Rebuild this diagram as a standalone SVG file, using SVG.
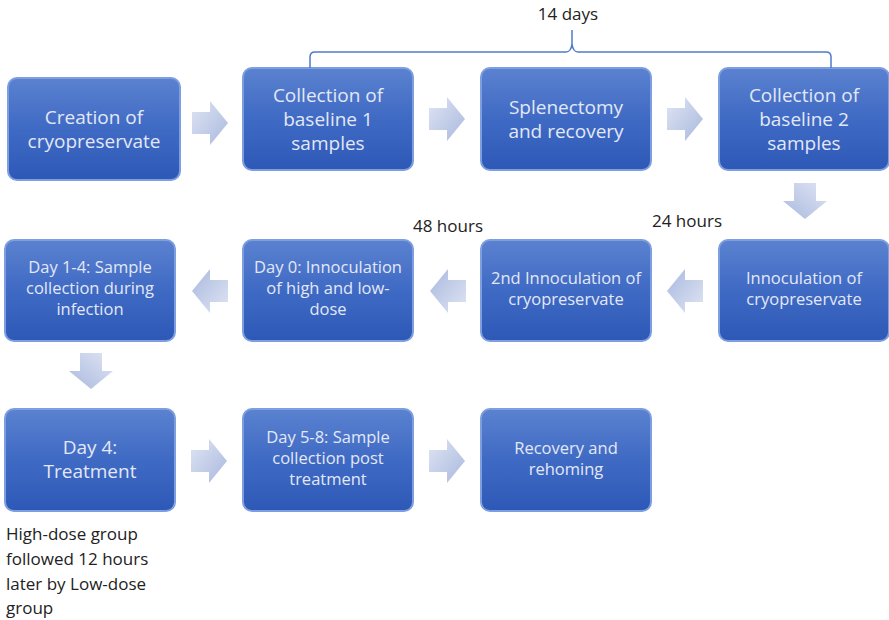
<svg xmlns="http://www.w3.org/2000/svg" width="889" height="620" viewBox="0 0 889 620">
<defs>
<linearGradient id="bg" x1="0" y1="0" x2="0" y2="1">
<stop offset="0" stop-color="#5b82d0"/>
<stop offset="0.5" stop-color="#3f6ac4"/>
<stop offset="1" stop-color="#2d58b6"/>
</linearGradient>
<linearGradient id="ag" x1="0" y1="0" x2="1" y2="1">
<stop offset="0" stop-color="#dfe5f3"/>
<stop offset="1" stop-color="#a9b8de"/>
</linearGradient>
<path id="ar" d="M0,-11 H18 V-22 L36,0 L18,22 V11 H0 Z"/>
</defs>
<style>
.box{fill:url(#bg);stroke:#7d9ee0;stroke-width:2}
.t{font-family:"Open Sans","Noto Sans",sans-serif;fill:#e3e8f6;text-anchor:middle}
.b{font-size:19px}
.s{font-size:16.5px}
.k{font-family:"Open Sans","Noto Sans",sans-serif;fill:#222;font-size:17px}
.a{fill:url(#ag)}
</style>
<rect width="889" height="620" fill="#fff"/>
<g id="n1"><rect class="box" x="8" y="78" width="172" height="102" rx="9"/><text class="t b" x="94" y="124">Creation of</text><text class="t b" x="94" y="148">cryopreservate</text></g>
<g id="n2"><rect class="box" x="243" y="68" width="170" height="102" rx="9"/><text class="t b" x="328" y="102">Collection of</text><text class="t b" x="328" y="126">baseline 1</text><text class="t b" x="328" y="150">samples</text></g>
<g id="n3"><rect class="box" x="481" y="68" width="170" height="102" rx="9"/><text class="t b" x="566" y="114">Splenectomy</text><text class="t b" x="566" y="138">and recovery</text></g>
<g id="n4"><rect class="box" x="719" y="68" width="170" height="102" rx="9"/><text class="t b" x="804" y="102">Collection of</text><text class="t b" x="804" y="126">baseline 2</text><text class="t b" x="804" y="150">samples</text></g>
<g id="n5"><rect class="box" x="719" y="240" width="170" height="101" rx="9"/><text class="t s" x="804" y="284">Innoculation of</text><text class="t s" x="804" y="305">cryopreservate</text></g>
<g id="n6"><rect class="box" x="481" y="240" width="170" height="101" rx="9"/><text class="t s" x="566" y="284">2nd Innoculation of</text><text class="t s" x="566" y="305">cryopreservate</text></g>
<g id="n7"><rect class="box" x="243" y="240" width="170" height="101" rx="9"/><text class="t s" x="328" y="273">Day 0: Innoculation</text><text class="t s" x="328" y="294">of high and low-</text><text class="t s" x="328" y="315">dose</text></g>
<g id="n8"><rect class="box" x="5" y="240" width="170" height="101" rx="9"/><text class="t s" x="90" y="273">Day 1-4: Sample</text><text class="t s" x="90" y="294">collection during</text><text class="t s" x="90" y="315">infection</text></g>
<g id="n9"><rect class="box" x="5" y="409" width="170" height="102" rx="9"/><text class="t b" x="90" y="454">Day 4:</text><text class="t b" x="90" y="478">Treatment</text></g>
<g id="n10"><rect class="box" x="243" y="409" width="170" height="102" rx="9"/><text class="t s" x="328" y="443">Day 5-8: Sample</text><text class="t s" x="328" y="464">collection post</text><text class="t s" x="328" y="485">treatment</text></g>
<g id="n11"><rect class="box" x="481" y="409" width="170" height="102" rx="9"/><text class="t s" x="566" y="454">Recovery and</text><text class="t s" x="566" y="475">rehoming</text></g>
<g id="connectors">
<use href="#ar" class="a" transform="translate(192,123)"/>
<use href="#ar" class="a" transform="translate(429,119)"/>
<use href="#ar" class="a" transform="translate(667,119)"/>
<use href="#ar" class="a" transform="translate(805,183) rotate(90)"/>
<use href="#ar" class="a" transform="translate(703,291) rotate(180)"/>
<use href="#ar" class="a" transform="translate(466,291) rotate(180)"/>
<use href="#ar" class="a" transform="translate(228,291) rotate(180)"/>
<use href="#ar" class="a" transform="translate(91,353) rotate(90)"/>
<use href="#ar" class="a" transform="translate(191,461)"/>
<use href="#ar" class="a" transform="translate(429,461)"/>
<path d="M310,68 V57 Q310,52 315,52 H566 Q571,52 572,44 V30 M572,44 Q573,52 578,52 H826 Q831,52 831,57 V68" fill="none" stroke="#4f79cc" stroke-width="1.5"/>
</g>
<g id="labels">
<text class="k" x="568" y="20" text-anchor="middle">14 days</text>
<text class="k" x="448" y="232" text-anchor="middle">48 hours</text>
<text class="k" x="687" y="227" text-anchor="middle">24 hours</text>
<text class="k" x="6" y="540">High-dose group</text>
<text class="k" x="6" y="565">followed 12 hours</text>
<text class="k" x="6" y="590">later by Low-dose</text>
<text class="k" x="6" y="614">group</text>
</g>
</svg>
